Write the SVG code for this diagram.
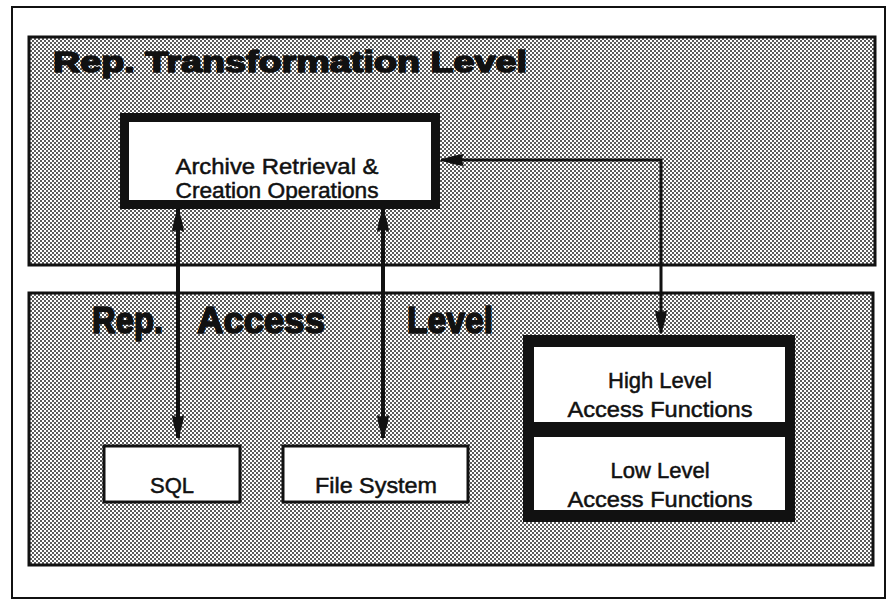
<svg xmlns="http://www.w3.org/2000/svg" width="888" height="601" viewBox="0 0 888 601">
<style>
.panel{fill:url(#dither);stroke:#111;stroke-width:3}
.box{fill:#fff;stroke:#111}
.lbl{font-family:"Liberation Sans",Arial,sans-serif;font-size:22px;fill:#111;stroke:#111;stroke-width:0.5;text-anchor:middle}
.title{font-family:"Liberation Sans",Arial,sans-serif;font-weight:bold;fill:#111;stroke:#111;stroke-width:1.6;stroke-linejoin:round}
.conn{fill:none;stroke:#111}
</style>
<defs>
<pattern id="dither" width="4" height="4" patternUnits="userSpaceOnUse">
<rect width="4" height="4" fill="#ffffff"/>
<rect x="0" y="0" width="2" height="2" fill="#5c5c5c"/>
<rect x="2" y="2" width="2" height="2" fill="#5c5c5c"/>
</pattern>
<marker id="ah" viewBox="0 0 24 16" refX="23" refY="8" markerWidth="24" markerHeight="16" markerUnits="userSpaceOnUse" orient="auto-start-reverse">
<path d="M0,2 Q10,3 24,8 Q10,13 0,14 Q4,8 0,2 Z" fill="#111"/>
</marker>
</defs>
<rect width="888" height="601" fill="#fff"/>
<rect x="12" y="7" width="873" height="591" fill="none" stroke="#111" stroke-width="2"/>

<g id="transformation-level">
<rect class="panel" x="29" y="37" width="846" height="228"/>
<text class="title" x="53" y="72" font-size="30" textLength="474" lengthAdjust="spacingAndGlyphs">Rep. Transformation Level</text>
</g>

<g id="access-level">
<rect class="panel" x="29" y="293" width="844" height="272"/>
<text class="title" y="333" font-size="36"><tspan x="92" textLength="71" lengthAdjust="spacingAndGlyphs">Rep.</tspan><tspan x="197" textLength="128" lengthAdjust="spacingAndGlyphs">Access</tspan><tspan x="407" textLength="86" lengthAdjust="spacingAndGlyphs">Level</tspan></text>
</g>

<g id="archive">
<rect class="box" x="124.5" y="117.5" width="311" height="87" stroke-width="9"/>
<text class="lbl" x="277" y="174" font-size="21" textLength="203" lengthAdjust="spacingAndGlyphs">Archive Retrieval &amp;</text>
<text class="lbl" x="277" y="198" font-size="21" textLength="203" lengthAdjust="spacingAndGlyphs">Creation Operations</text>
</g>

<g id="sql">
<rect class="box" x="104" y="446" width="136" height="56" stroke-width="3"/>
<text class="lbl" x="172" y="493">SQL</text>
</g>

<g id="filesystem">
<rect class="box" x="283" y="446" width="185" height="56" stroke-width="3"/>
<text class="lbl" x="376" y="493" textLength="122" lengthAdjust="spacingAndGlyphs">File System</text>
</g>

<g id="access-functions">
<rect x="523" y="335" width="272" height="187" fill="#111"/>
<rect x="534" y="347" width="251" height="75" fill="#fff"/>
<rect x="534" y="437" width="251" height="73" fill="#fff"/>
<text class="lbl" x="660" y="388">High Level</text>
<text class="lbl" x="660" y="417" textLength="185" lengthAdjust="spacingAndGlyphs">Access Functions</text>
<text class="lbl" x="660" y="478">Low Level</text>
<text class="lbl" x="660" y="507" textLength="185" lengthAdjust="spacingAndGlyphs">Access Functions</text>
</g>

<g id="connectors">
<path class="conn" d="M178,209 V438" stroke-width="4" marker-start="url(#ah)" marker-end="url(#ah)"/>
<path class="conn" d="M383,209 V438" stroke-width="4" marker-start="url(#ah)" marker-end="url(#ah)"/>
<path class="conn" d="M441,160 H661 V333" stroke-width="3" marker-start="url(#ah)" marker-end="url(#ah)"/>
</g>
</svg>
